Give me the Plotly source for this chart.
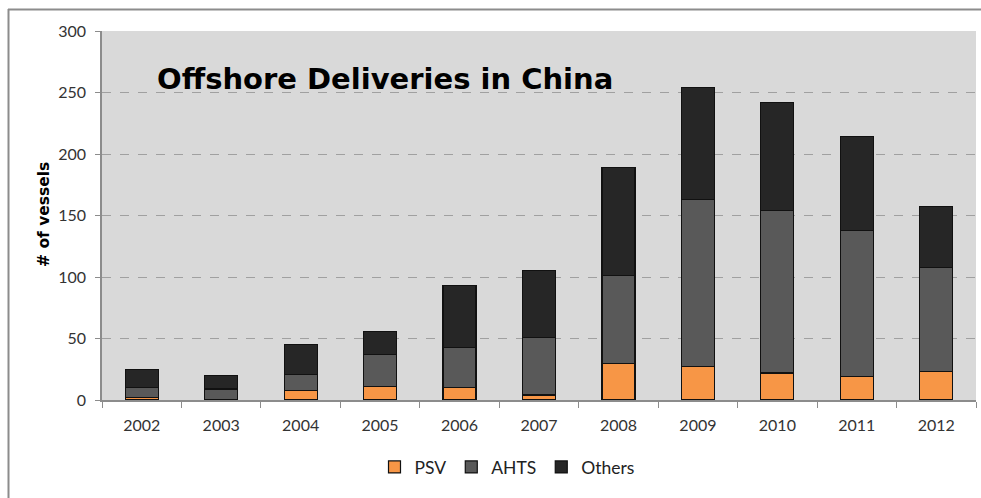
import plotly.graph_objects as go

years = ["2002", "2003", "2004", "2005", "2006", "2007", "2008", "2009", "2010", "2011", "2012"]
psv = [2, 0, 8, 11, 10, 4, 30, 27, 22, 19, 23]
ahts = [8, 9, 13, 26, 33, 47, 71, 136, 132, 119, 85]
others = [15, 11, 24, 19, 50, 54, 88, 91, 88, 76, 49]
y_ticks = [0, 50, 100, 150, 200, 250, 300]

W, H = 981, 498
ML, MR, MT = 102, 5, 31
MB = H - MT - 369
PW, PH = W - ML - MR, H - MT - MB

def px_x(x):
    return (x - ML) / PW

def px_y(y):
    return (H - MB - y) / PH

fig = go.Figure()
for name, vals, col in [("PSV", psv, "#F79646"), ("AHTS", ahts, "#595959"), ("Others", others, "#262626")]:
    fig.add_trace(go.Bar(x=years, y=vals, name=name, marker=dict(color=col, line=dict(color="#111111", width=1.2))))

fig.update_layout(
    width=W, height=H,
    margin=dict(l=ML, r=MR, t=MT, b=MB),
    barmode="stack", bargap=0.585,
    plot_bgcolor="#D9D9D9", paper_bgcolor="white",
    font=dict(family="Lato, Open Sans, sans-serif", color="#404040"),
    showlegend=True,
    legend=dict(orientation="h", x=px_x(507), xanchor="center", y=px_y(467), yanchor="middle",
                font=dict(size=17.5, color="#222222"), itemwidth=30, traceorder="normal"),
    xaxis=dict(type="category", showgrid=False, showline=True, linecolor="#8c8c8c", linewidth=1.5,
               ticks="outside", tickson="boundaries", ticklen=6, tickcolor="#8c8c8c",
               ticklabelstandoff=10,
               tickfont=dict(size=16, color="#333333"), fixedrange=True),
    yaxis=dict(range=[0, 300], tickvals=y_ticks, showgrid=True, gridcolor="#a0a0a0", griddash="dash",
               gridwidth=1, showline=True, linecolor="#8c8c8c", linewidth=1.5, ticks="outside",
               ticklen=5, tickcolor="#8c8c8c", ticklabelstandoff=6,
               tickfont=dict(size=16, color="#333333"), zeroline=False),
    annotations=[
        dict(text="<b>Offshore Deliveries in China</b>", xref="paper", yref="paper",
             x=px_x(155), y=px_y(79), xanchor="left", yanchor="middle", showarrow=False,
             font=dict(family="DejaVu Sans", size=29, color="black")),
        dict(text="<b># of vessels</b>", xref="paper", yref="paper", x=px_x(44), y=px_y(215),
             xanchor="center", yanchor="middle", textangle=-90, showarrow=False,
             font=dict(family="DejaVu Sans", size=15.5, color="black")),
    ],
    shapes=[
        dict(type="line", xref="paper", yref="paper", x0=px_x(8), x1=px_x(981), y0=px_y(9.5), y1=px_y(9.5),
             line=dict(color="#8c8c8c", width=2)),
        dict(type="line", xref="paper", yref="paper", x0=px_x(8.5), x1=px_x(8.5), y0=px_y(9), y1=px_y(498),
             line=dict(color="#8c8c8c", width=2)),
    ],
)

fig.write_html("out.html", config={"displayModeBar": False},
               post_script="document.body.style.margin='0';document.body.style.overflow='hidden';")
